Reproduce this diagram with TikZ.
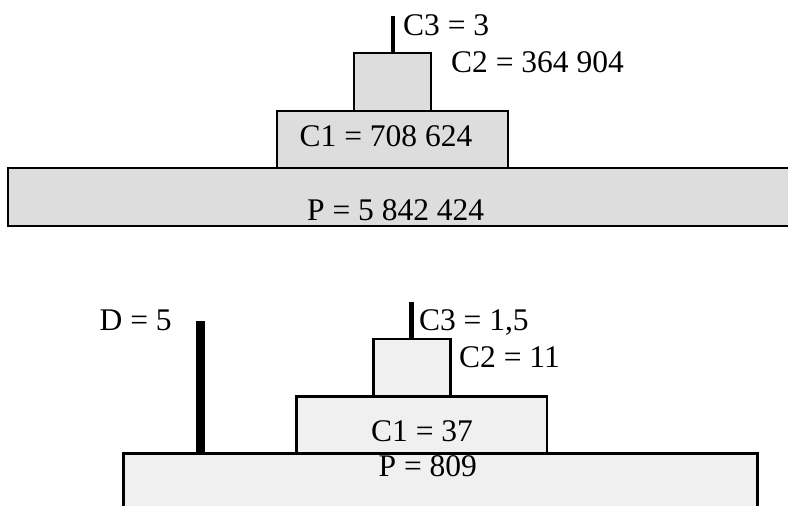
\documentclass[tikz,border=0pt]{standalone}
\usepackage{fontspec}
\setmainfont{Liberation Serif}
\definecolor{topgrey}{HTML}{DDDDDD}
\definecolor{lowgrey}{HTML}{F0F0F0}
\tikzset{
  block/.style={draw, line width=2pt, inner sep=0pt, outer sep=0pt},
  topblock/.style={block, fill=topgrey},
  lowblock/.style={block, fill=lowgrey, line width=2.6pt},
  lbl/.style={inner sep=0pt, font=\fontsize{31.5}{36}\selectfont},
}

\begin{document}
\begin{tikzpicture}[x=1pt, y=-1pt]
\clip (0,0) rectangle (788,506);

% upper pyramid
\node[topblock, minimum width=790pt, minimum height=58pt] (pup) at (403, 196.5) {};
\node[topblock, minimum width=231pt, minimum height=57.3pt] (cioneup) at (392.8, 139.4) {};
\node[topblock, minimum width=77pt, minimum height=57.4pt] (ctwoup) at (392.8, 82) {};
\coordinate (cthreeup) at (392.8, 15.7);
\draw[line width=4pt] (ctwoup.north) -- (cthreeup);

\node[lbl, anchor=base] (puptxt) at (395.7, 220) {P = 5 842 424};
\node[lbl, anchor=base] (cioneuptxt) at (386, 146.7) {C1 = 708 624};
\node[lbl, anchor=base west] (ctwouptxt) at (451, 72.7) {C2 = 364 904};
\node[lbl, anchor=base west] (cthreeuptxt) at (403, 35) {C3 = 3};

% lower pyramid
\node[lowblock, minimum width=634pt, minimum height=120pt] (plow) at (440.4, 513.3) {};
\node[lowblock, minimum width=250.7pt, minimum height=57pt] (cionelow) at (421.65, 424.8) {};
\node[lowblock, minimum width=77.4pt, minimum height=57.3pt] (ctwolow) at (411.9, 367.65) {};
\coordinate (cthreelow) at (411.9, 301.7);
\draw[line width=5pt] (ctwolow.north) -- (cthreelow);
\coordinate (dtop) at (200, 320.7);
\draw[line width=9pt] (plow.north -| dtop) -- (dtop);

\node[lbl, anchor=base] (plowtxt) at (427.8, 476.7) {P = 809};
\node[lbl, anchor=base] (cionelowtxt) at (422, 441.7) {C1 = 37};
\node[lbl, anchor=base west] (ctwolowtxt) at (459, 367.3) {C2 = 11};
\node[lbl, anchor=base west] (cthreelowtxt) at (418.8, 330.7) {C3 = 1,5};
\node[lbl, anchor=base west] (dtxt) at (99.5, 330.7) {D = 5};
\end{tikzpicture}
\end{document}
